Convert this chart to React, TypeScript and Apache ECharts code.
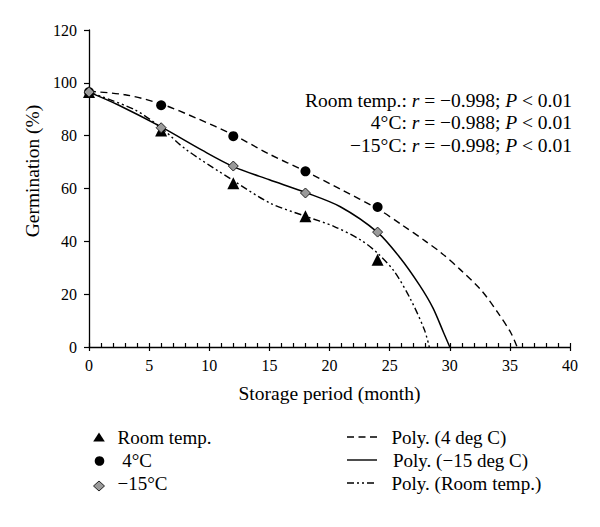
import React, { useEffect, useRef } from "react";
import * as echarts from "echarts";

// Observed germination (%) by storage month
const months = [0, 6, 12, 18, 24];
const roomTemp = [96.5, 82, 62, 49.5, 33];
const temp4C = [96.5, 91.5, 79.8, 66.5, 53];
const tempMinus15 = [96.5, 83, 68.5, 58.3, 43.5];

// Polynomial trend lines as [month, germination]
const fit4C: [number, number][] = [
  [0, 96.8], [3, 95.5], [6, 92], [9, 86.5], [12, 80.3], [15, 73], [18, 66.5],
  [21, 59.5], [24, 52.3], [26, 46.3], [28, 40], [29.25, 35.8], [30.9, 29.2],
  [32.6, 21.6], [34, 13], [35.1, 5.2], [35.6, 0],
];
const fitMinus15: [number, number][] = [
  [0, 96.5], [2.4, 91.7], [6, 83.3], [9.4, 74.5], [12, 68.3], [15, 63.3],
  [18, 58.5], [20.9, 53.1], [24, 43.4], [25.9, 33.6], [27.5, 23.3],
  [28.6, 14.8], [29.5, 5.3], [30, 0],
];
const fitRoom: [number, number][] = [
  [0, 96.5], [3.8, 89.8], [6, 83], [8, 75], [12, 63], [15.1, 54.4],
  [18, 49.5], [20.4, 45.6], [22.6, 40.5], [24, 35.5], [25.4, 28.5],
  [26.75, 18], [27.9, 6.4], [28.3, 0],
];

const xTicks = { min: 0, max: 40, step: 5 };
const yTicks = { min: 0, max: 120, step: 20 };

const annotations = [
  "Room temp.: {i|r} = −0.998; {i|P} < 0.01",
  "4°C: {i|r} = −0.988; {i|P} < 0.01",
  "−15°C: {i|r} = −0.998; {i|P} < 0.01",
];

const markerLegend = ["Room temp.", "\u00a04°C", "−15°C"];
const lineLegend = ["Poly. (4 deg C)", "Poly. (−15 deg C)", "Poly. (Room temp.)"];

const FONT = "'Liberation Serif', 'Times New Roman', serif";
const DASH_4C = [7, 4.5];
const DASH_ROOM = [7, 3, 2, 3, 2, 3];

export default function App() {
  const ref = useRef<HTMLDivElement>(null);
  useEffect(() => {
    if (!ref.current) return;
    const chart = echarts.init(ref.current, null, { renderer: "svg" });
    const pair = (xs: number[], ys: number[]) => xs.map((x, i) => [x, ys[i]]);
    const tick = { fontFamily: FONT, fontSize: 16, color: "#000" };
    const big = { fontFamily: FONT, fontSize: 19.5, color: "#000" };
    const textStyle = (text: string, size: number, align = "left") => ({
      text,
      fontFamily: FONT,
      fontSize: size,
      fill: "#000",
      align,
      verticalAlign: "middle",
      textAlign: align,
      textVerticalAlign: "middle",
    });
    const rowY = [437, 460, 483];

    const legendGraphics: any[] = [];
    // marker legend
    legendGraphics.push({
      type: "polygon",
      shape: { points: [[99, 432.5], [104.8, 441.5], [93.2, 441.5]] },
      style: { fill: "#000" },
    });
    legendGraphics.push({
      type: "circle",
      shape: { cx: 99.5, cy: 461, r: 4.8 },
      style: { fill: "#000" },
    });
    legendGraphics.push({
      type: "polygon",
      shape: { points: [[99, 481], [104.5, 486], [99, 491], [93.5, 486]] },
      style: { fill: "#9a9a9a", stroke: "#222", lineWidth: 1 },
    });
    markerLegend.forEach((t, i) => {
      legendGraphics.push({
        type: "text",
        x: 117.5,
        y: rowY[i],
        style: textStyle(t, 19),
      });
    });
    // line legend
    const lineDashes: any[] = [DASH_4C, null, DASH_ROOM];
    lineLegend.forEach((t, i) => {
      legendGraphics.push({
        type: "line",
        shape: { x1: 347, y1: rowY[i], x2: 377, y2: rowY[i] },
        style: { stroke: "#000", lineWidth: 1.4, lineDash: lineDashes[i] || undefined },
      });
      legendGraphics.push({
        type: "text",
        x: i === 1 ? 393 : 391.5,
        y: rowY[i],
        style: textStyle(t, 19),
      });
    });

    chart.setOption({
      animation: false,
      backgroundColor: "#fff",
      grid: { left: 89, right: 30, top: 30, bottom: 180 },
      xAxis: [
        {
          type: "value",
          min: xTicks.min,
          max: xTicks.max,
          interval: xTicks.step,
          name: "Storage period (month)",
          nameLocation: "middle",
          nameGap: 36,
          nameTextStyle: { ...big },
          axisLine: { show: true, lineStyle: { color: "#000", width: 1.3 } },
          axisTick: { show: true, inside: false, length: 4, lineStyle: { color: "#000", width: 1.2 } },
          axisLabel: { ...tick, margin: 10 },
          splitLine: { show: false },
        },
        {
          type: "value",
          min: xTicks.min,
          max: xTicks.max,
          interval: 1,
          position: "bottom",
          axisLine: { show: false },
          axisTick: { show: true, inside: true, length: 4, lineStyle: { color: "#000", width: 1.2 } },
          axisLabel: { show: false },
          splitLine: { show: false },
        },
      ],
      yAxis: {
        type: "value",
        min: yTicks.min,
        max: yTicks.max,
        interval: yTicks.step,
        axisLine: { show: true, lineStyle: { color: "#000", width: 1.3 } },
        axisTick: { show: true, inside: false, length: 5, lineStyle: { color: "#000", width: 1.2 } },
        axisLabel: { ...tick, margin: 12 },
        splitLine: { show: false },
      },
      graphic: [
        ...annotations.map((t, i) => ({
          type: "text",
          x: 572,
          y: 100 + i * 22.5,
          style: {
            ...textStyle(t, 19.5, "right"),
            rich: { i: { fontFamily: FONT, fontSize: 19.5, fontStyle: "italic", fill: "#000" } },
          },
        })),
        {
          type: "text",
          x: 32,
          y: 171,
          rotation: Math.PI / 2,
          style: textStyle("Germination (%)", 19.5, "center"),
        },
        ...legendGraphics,
      ],
      series: [
        {
          name: "Poly. (4 deg C)",
          type: "line",
          data: fit4C,
          smooth: 0.3,
          symbol: "none",
          lineStyle: { color: "#000", width: 1.4, type: DASH_4C },
          z: 2,
        },
        {
          name: "Poly. (−15 deg C)",
          type: "line",
          data: fitMinus15,
          smooth: 0.3,
          symbol: "none",
          lineStyle: { color: "#000", width: 1.5, type: "solid" },
          z: 2,
        },
        {
          name: "Poly. (Room temp.)",
          type: "line",
          data: fitRoom,
          smooth: 0.3,
          symbol: "none",
          lineStyle: { color: "#000", width: 1.4, type: DASH_ROOM },
          z: 2,
        },
        {
          name: "Room temp.",
          type: "scatter",
          data: pair(months, roomTemp),
          symbol: "triangle",
          symbolSize: 12,
          clip: false,
          itemStyle: { color: "#000", opacity: 1 },
          z: 3,
        },
        {
          name: "4°C",
          type: "scatter",
          data: pair(months, temp4C),
          symbol: "circle",
          symbolSize: 10,
          clip: false,
          itemStyle: { color: "#000", opacity: 1 },
          z: 3,
        },
        {
          name: "−15°C",
          type: "scatter",
          data: pair(months, tempMinus15),
          symbol: "diamond",
          symbolSize: 10,
          clip: false,
          itemStyle: { color: "#9a9a9a", borderColor: "#222", borderWidth: 1, opacity: 1 },
          z: 4,
        },
      ],
    });
    return () => chart.dispose();
  }, []);
  return (
    <div
      ref={ref}
      style={{ position: "fixed", left: 0, top: 0, width: 600, height: 527, background: "#fff" }}
    />
  );
}
